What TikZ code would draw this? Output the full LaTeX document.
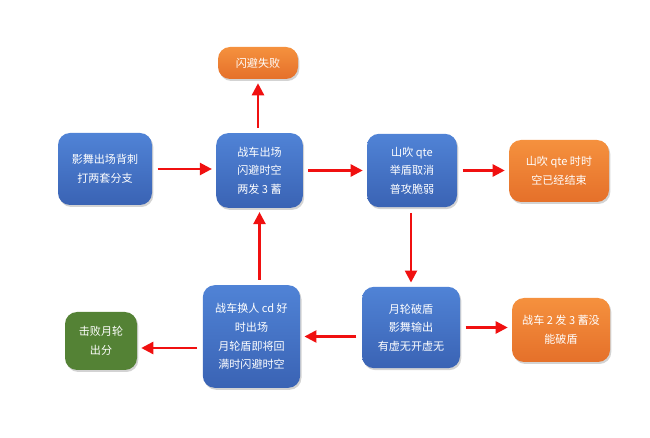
\documentclass[tikz,border=0pt]{standalone}
\usepackage{fontspec}
\newfontfamily\cjk{Noto Sans CJK SC}
\usetikzlibrary{arrows.meta,shadows}
\definecolor{bluetop}{HTML}{5083D6}
\definecolor{bluebot}{HTML}{3A63B4}
\definecolor{orangetop}{HTML}{F5913E}
\definecolor{orangebot}{HTML}{E5702A}
\definecolor{greenbox}{HTML}{548235}
\definecolor{arrowred}{HTML}{F01010}

\begin{document}
\begin{tikzpicture}[
			x=0.75pt, y=-0.75pt,
			box/.style={
				rectangle,
				rounded corners=9pt,
				align=center,
				text=white,
				inner sep=2pt,
				font=\cjk\fontsize{8.3}{14}\selectfont,
				drop shadow={opacity=0.35, shadow xshift=1pt, shadow yshift=-1.5pt}
			},
			blueblock/.style={
				box,
				top color=bluetop,
				bottom color=bluebot
			},
			orangeblock/.style={
				box,
				top color=orangetop,
				bottom color=orangebot
			},
			greenblock/.style={
				box,
				fill=greenbox
			},
			arrow/.style={
				-{Triangle[width=9pt,length=9pt]},
				line width=1.8pt,
				draw=arrowred,
				shorten >=3pt,
				shorten <=4pt
			}
			]
			\useasboundingbox (0,0) rectangle (650,438);
			
			% Nodes
			\node[orangeblock, minimum width=60pt, minimum height=24pt] (fail) at (258,63) {闪避失败};
			\node[blueblock, minimum width=70.5pt, minimum height=54pt] (shadow) at (105,169) {影舞出场背刺\\打两套分支};
			\node[blueblock, minimum width=65pt, minimum height=56pt] (chariot) at (259.5,170.5) {战车出场\\闪避时空\\两发 3 蓄};
			\node[blueblock, minimum width=67.5pt, minimum height=55pt] (yamabuki) at (412,170.5) {山吹 qte\\举盾取消\\普攻脆弱};
			\node[orangeblock, minimum width=75pt, minimum height=46.5pt] (qteend) at (559,171) {山吹 qte 时时\\空已经结束};
			\node[blueblock, minimum width=73.5pt, minimum height=61pt] (break) at (411,327.5) {月轮破盾\\影舞输出\\有虚无开虚无};
			\node[orangeblock, minimum width=73.5pt, minimum height=48pt] (nobreak) at (561,330) {战车 2 发 3 蓄没\\能破盾};
			\node[blueblock, minimum width=73pt, minimum height=77pt] (swap) at (251.5,336.5) {战车换人 cd 好\\时出场\\月轮盾即将回\\满时闪避时空};
			\node[greenblock, minimum width=54pt, minimum height=43.5pt] (win) at (101,341) {击败月轮\\出分};
			
			% Arrows
			\draw[arrow] (chariot.north -| fail) -- (fail.south);
			\draw[arrow] (shadow.east) -- (shadow.east -| chariot.west);
			\draw[arrow] (chariot.east) -- (yamabuki.west);
			\draw[arrow] (yamabuki.east) -- (yamabuki.east -| qteend.west);
			\draw[arrow] (yamabuki.south -| break) -- (break.north);
			\draw[arrow] (break.east) -- (break.east -| nobreak.west);
			\draw[arrow] (break.west |- swap) -- (swap.east);
			\draw[arrow] (swap.north -| chariot) -- (chariot.south);
			\draw[arrow] (swap.west |- 0,348) -- (win.east |- 0,348);
			
		\end{tikzpicture}
\end{document}
